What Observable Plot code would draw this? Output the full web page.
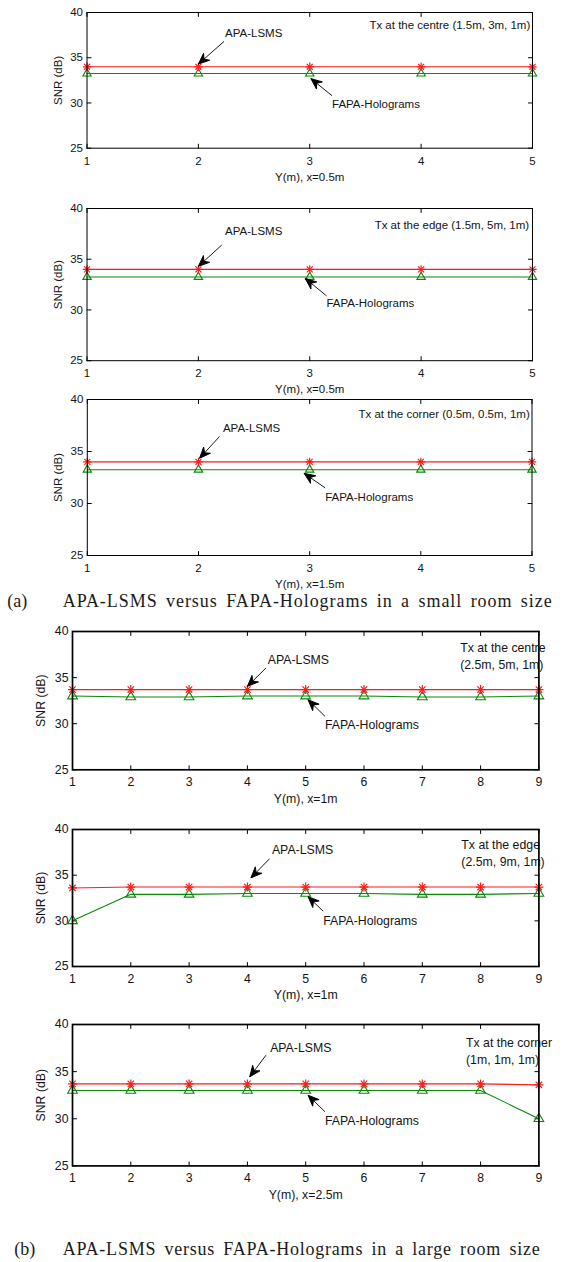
<!DOCTYPE html>
<html><head><meta charset="utf-8">
<script src="https://cdn.jsdelivr.net/npm/d3@7"></script>
<script src="https://cdn.jsdelivr.net/npm/@observablehq/plot@0.6"></script>
<style>
html,body{margin:0;padding:0;background:#fff;}
#page{position:relative;width:563px;height:1262px;overflow:hidden;background:#fff;}
#page > svg, #page > .cap{position:absolute;left:0;}
</style></head><body><div id="page"></div>
<script>
// ---------- data ----------
const posSmall = [1, 2, 3, 4, 5];            // Y (m), small room
const posLarge = [1, 2, 3, 4, 5, 6, 7, 8, 9]; // Y (m), large room
const snrTicks = [25, 30, 35, 40];

const apaSmallCentre  = [34.0, 34.0, 34.0, 34.0, 34.0];
const fapaSmallCentre = [33.25, 33.25, 33.25, 33.25, 33.25];
const apaSmallEdge    = [34.0, 34.0, 34.0, 34.0, 34.0];
const fapaSmallEdge   = [33.25, 33.25, 33.25, 33.25, 33.25];
const apaSmallCorner  = [34.0, 34.0, 34.0, 34.0, 34.0];
const fapaSmallCorner = [33.25, 33.25, 33.25, 33.25, 33.25];

const apaLargeCentre  = [33.7, 33.7, 33.7, 33.7, 33.7, 33.7, 33.7, 33.7, 33.7];
const fapaLargeCentre = [33.0, 32.9, 32.9, 33.0, 33.0, 33.0, 32.9, 32.9, 33.0];
const apaLargeEdge    = [33.6, 33.7, 33.7, 33.7, 33.7, 33.7, 33.7, 33.7, 33.7];
const fapaLargeEdge   = [30.0, 32.9, 32.9, 33.0, 33.0, 33.0, 32.9, 32.9, 33.0];
const apaLargeCorner  = [33.7, 33.7, 33.7, 33.7, 33.7, 33.7, 33.7, 33.7, 33.6];
const fapaLargeCorner = [33.0, 33.0, 33.0, 33.0, 33.0, 33.0, 33.0, 33.0, 30.0];

const xLabels = ["Y(m), x=0.5m", "Y(m), x=0.5m", "Y(m), x=1.5m", "Y(m), x=1m", "Y(m), x=1m", "Y(m), x=2.5m"];
const txLabels = [
  "Tx at the centre (1.5m, 3m, 1m)",
  "Tx at the edge (1.5m, 5m, 1m)",
  "Tx at the corner (0.5m, 0.5m, 1m)",
  "Tx at the centre\n(2.5m, 5m, 1m)",
  "Tx at the edge\n(2.5m, 9m, 1m)",
  "Tx at the corner\n(1m, 1m, 1m)"
];
const seriesNames = ["APA-LSMS", "FAPA-Holograms"];
const yLabel = "SNR (dB)";
const captions = [
  ["(a)", "APA-LSMS versus FAPA-Holograms in a small room size"],
  ["(b)", "APA-LSMS versus FAPA-Holograms in a large room size"]
];

// annotation anchors, in data units (x = Y(m), y = SNR dB)
const noteSmallCentre = {tx:[4.98,38.7], apaText:[2.24,37.7], apaTail:[2.23,36.8], apaTip:[2.0,34.3], fapaText:[3.2,29.8], fapaTail:[3.2,30.8], fapaTip:[3.01,32.7]};
const noteSmallEdge   = {tx:[4.97,38.5], apaText:[2.24,37.8], apaTail:[2.21,36.4], apaTip:[2.0,34.3], fapaText:[3.15,30.7], fapaTail:[3.15,31.4], fapaTip:[2.96,33.1]};
const noteSmallCorner = {tx:[4.98,38.7], apaText:[2.22,37.25], apaTail:[2.19,36.45], apaTip:[2.01,34.35], fapaText:[3.14,30.55], fapaTail:[3.14,31.5], fapaTip:[2.95,32.9]};
const noteLargeCentre = {tx:[7.65,37.4], apaText:[4.35,36.95], apaTail:[4.32,36.05], apaTip:[4.0,34.05], fapaText:[5.33,29.9], fapaTail:[5.33,30.8], fapaTip:[5.04,32.6]};
const noteLargeEdge   = {tx:[7.67,37.5], apaText:[4.42,37.8], apaTail:[4.38,36.8], apaTip:[4.06,34.7], fapaText:[5.3,29.95], fapaTail:[5.3,31.05], fapaTip:[5.04,32.65]};
const noteLargeCorner = {tx:[7.75,37.27], apaText:[4.39,37.45], apaTail:[4.32,36.75], apaTip:[4.04,34.45], fapaText:[5.33,29.8], fapaTail:[5.33,30.75], fapaTip:[5.04,32.5]};

// ---------- layout (pixels) ----------
const layout = [
  {top:12,     bottom:147.7, left:86.5, right:532,   font:11.5, frameW:1,   tickPad:9,   yLabDx:-29, star:2.8, tri:3.1, txAnchor:"end"},
  {top:208.3,  bottom:360.5, left:86.5, right:532,   font:11.5, frameW:1,   tickPad:8.5, yLabDx:-29, star:2.8, tri:3.1, txAnchor:"end"},
  {top:399,    bottom:555,   left:86.8, right:531.5, font:11.5, frameW:1,   tickPad:8.5, yLabDx:-29, star:2.8, tri:3.1, txAnchor:"end"},
  {top:631,    bottom:769.3, left:72,   right:538.4, font:12.3, frameW:1.7, tickPad:7.5, yLabDx:-31, star:3.0, tri:3.6, txAnchor:"start"},
  {top:829,    bottom:966,   left:72,   right:538.4, font:12.3, frameW:1.7, tickPad:7.5, yLabDx:-31, star:3.0, tri:3.6, txAnchor:"start"},
  {top:1024.3, bottom:1165.7,left:72,   right:538.4, font:12.3, frameW:1.7, tickPad:7.5, yLabDx:-31, star:3.0, tri:3.6, txAnchor:"start"}
];

const panels = [
  {pos:posSmall, apa:apaSmallCentre, fapa:fapaSmallCentre, note:noteSmallCentre},
  {pos:posSmall, apa:apaSmallEdge,   fapa:fapaSmallEdge,   note:noteSmallEdge},
  {pos:posSmall, apa:apaSmallCorner, fapa:fapaSmallCorner, note:noteSmallCorner},
  {pos:posLarge, apa:apaLargeCentre, fapa:fapaLargeCentre, note:noteLargeCentre},
  {pos:posLarge, apa:apaLargeEdge,   fapa:fapaLargeEdge,   note:noteLargeEdge},
  {pos:posLarge, apa:apaLargeCorner, fapa:fapaLargeCorner, note:noteLargeCorner}
];

const RED = "#ff1a1a", GREEN = "#0a880a", INK = "#141414";
const NS = "http://www.w3.org/2000/svg";

function arrowHead(color) {
  const m = document.createElementNS(NS, "marker");
  m.setAttribute("viewBox", "-12 -6 14 12");
  m.setAttribute("markerWidth", 14);
  m.setAttribute("markerHeight", 12);
  m.setAttribute("markerUnits", "userSpaceOnUse");
  m.setAttribute("orient", "auto");
  m.setAttribute("refX", 0);
  m.setAttribute("refY", 0);
  const p = document.createElementNS(NS, "path");
  p.setAttribute("d", "M0,0L-11,-4.6L-7.5,0L-11,4.6Z");
  p.setAttribute("fill", color);
  m.appendChild(p);
  return m;
}

const tickShape = {draw(ctx, l) { ctx.moveTo(0, 0); ctx.lineTo(0, -l); }};

const page = document.getElementById("page");

panels.forEach((cfg, i) => {
  const L = layout[i];
  const n = cfg.note;
  const xDom = [cfg.pos[0], cfg.pos[cfg.pos.length - 1]];
  const yDom = [snrTicks[0], snrTicks[snrTicks.length - 1]];
  const rows = cfg.pos.map((p, k) => ({p, apa: cfg.apa[k], fapa: cfg.fapa[k]}));
  const arrows = [
    {x1: n.apaTail[0], y1: n.apaTail[1], x2: n.apaTip[0], y2: n.apaTip[1]},
    {x1: n.fapaTail[0], y1: n.fapaTail[1], x2: n.fapaTip[0], y2: n.fapaTip[1]}
  ];
  const notes = [
    {x: n.apaText[0], y: n.apaText[1], t: seriesNames[0]},
    {x: n.fapaText[0], y: n.fapaText[1], t: seriesNames[1]}
  ];
  const mt = 10, mb = 44;
  const h = L.bottom - L.top + mt + mb;
  const tickLen = 4;
  const svg = Plot.plot({
    width: 563,
    height: h,
    marginLeft: L.left,
    marginRight: 563 - L.right,
    marginTop: mt,
    marginBottom: mb,
    style: {fontFamily: "'Liberation Sans', Arial, sans-serif", fontSize: L.font + "px", background: "transparent", color: INK, overflow: "visible"},
    x: {domain: xDom, label: null},
    y: {domain: yDom, label: null},
    marks: [
      Plot.axisX(cfg.pos, {tickSize: 0, tickPadding: L.tickPad, label: null, fill: INK}),
      Plot.axisY(snrTicks, {tickSize: 0, tickPadding: 4, label: null, fill: INK}),
      Plot.vector(cfg.pos, {x: d => d, y: yDom[0], rotate: 0, length: tickLen, anchor: "start", shape: tickShape, stroke: "black", strokeWidth: 1}),
      Plot.vector(cfg.pos, {x: d => d, y: yDom[1], rotate: 180, length: tickLen, anchor: "start", shape: tickShape, stroke: "black", strokeWidth: 1}),
      Plot.vector(snrTicks, {x: xDom[0], y: d => d, rotate: 90, length: tickLen, anchor: "start", shape: tickShape, stroke: "black", strokeWidth: 1}),
      Plot.vector(snrTicks, {x: xDom[1], y: d => d, rotate: -90, length: tickLen, anchor: "start", shape: tickShape, stroke: "black", strokeWidth: 1}),
      Plot.line(rows, {x: "p", y: "fapa", stroke: GREEN, strokeWidth: 1.1}),
      Plot.line(rows, {x: "p", y: "apa", stroke: RED, strokeWidth: 1.1}),
      Plot.dot(rows, {x: "p", y: "fapa", symbol: "triangle", r: L.tri, stroke: GREEN, fill: "none", strokeWidth: 1.1}),
      Plot.dot(rows, {x: "p", y: "apa", symbol: "plus", r: L.star, stroke: RED, strokeWidth: 1.2}),
      Plot.dot(rows, {x: "p", y: "apa", symbol: "times", r: L.star, stroke: RED, strokeWidth: 1.2}),
      Plot.link(arrows, {x1: "x1", y1: "y1", x2: "x2", y2: "y2", stroke: "black", strokeWidth: 0.9, markerEnd: arrowHead}),
      Plot.text(notes, {x: "x", y: "y", text: "t", textAnchor: "start", lineAnchor: "middle", fill: INK}),
      Plot.text([txLabels[i]], {x: () => n.tx[0], y: () => n.tx[1], text: d => d, textAnchor: L.txAnchor, lineAnchor: "middle", lineHeight: 1.36, fill: INK}),
      Plot.text([xLabels[i]], {frameAnchor: "bottom", dy: 29, text: d => d, lineAnchor: "middle", fill: INK}),
      Plot.text([yLabel], {frameAnchor: "left", dx: L.yLabDx, rotate: -90, text: d => d, textAnchor: "middle", lineAnchor: "middle", fill: INK}),
      Plot.frame({stroke: "black", strokeWidth: L.frameW})
    ]
  });
  svg.style.position = "absolute";
  svg.style.left = "0px";
  svg.style.top = (L.top - mt) + "px";
  page.appendChild(svg);
});

// captions
const capLayout = [
  {top: 588, base: 19, labX: 7.2, textX: 62.7, textW: 489},
  {top: 1236, base: 18.5, labX: 14.3, textX: 62.7, textW: 477}
];
captions.forEach(([lab, txt], i) => {
  const c = capLayout[i];
  const s = document.createElementNS(NS, "svg");
  s.setAttribute("class", "cap");
  s.setAttribute("width", 563);
  s.setAttribute("height", 26);
  s.style.position = "absolute";
  s.style.left = "0px";
  s.style.top = c.top + "px";
  const mk = (x, str, w) => {
    const t = document.createElementNS(NS, "text");
    t.setAttribute("x", x);
    t.setAttribute("y", c.base);
    t.setAttribute("font-family", "'Liberation Serif', 'Times New Roman', serif");
    t.setAttribute("font-size", "18");
    t.setAttribute("fill", "#1a1a1a");
    if (w) { t.setAttribute("textLength", w); t.setAttribute("lengthAdjust", "spacing"); t.setAttribute("word-spacing", "3"); }
    t.textContent = str;
    s.appendChild(t);
  };
  mk(c.labX, lab);
  mk(c.textX, txt, c.textW);
  page.appendChild(s);
});
</script></body></html>
